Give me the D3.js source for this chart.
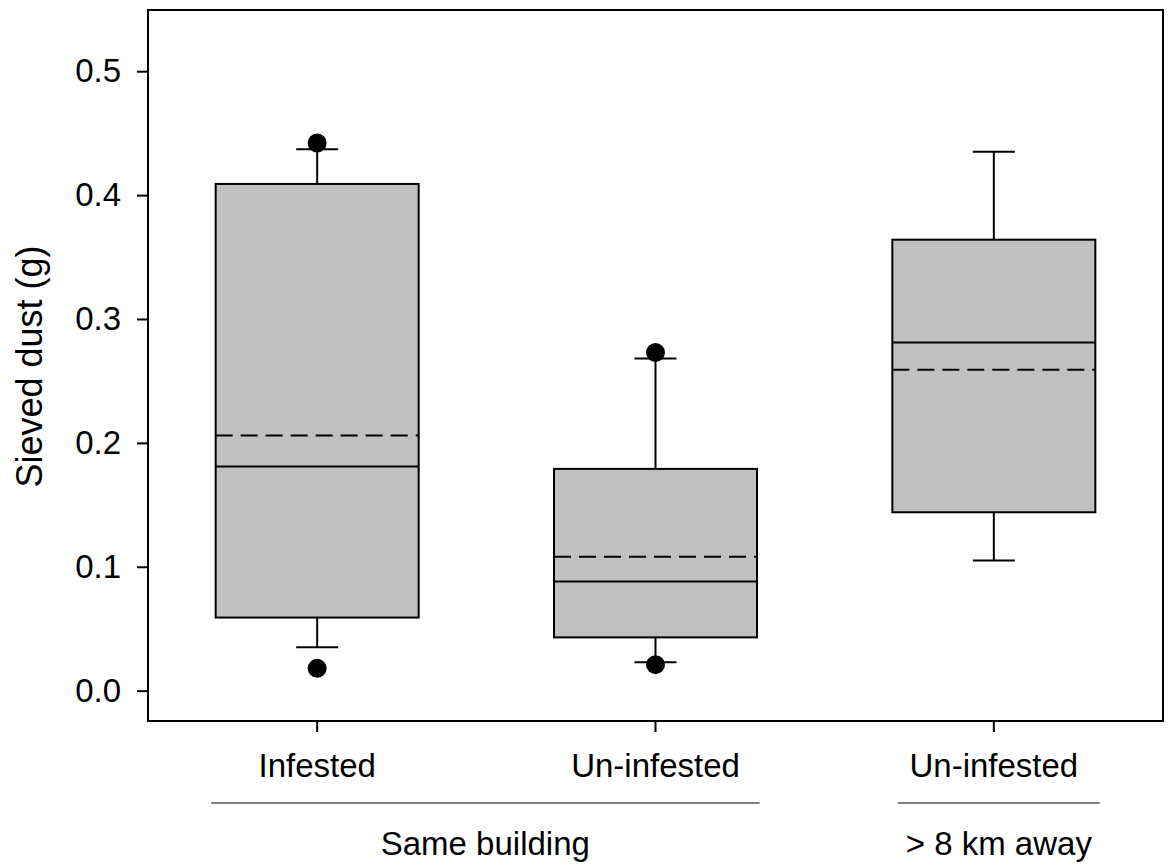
<!DOCTYPE html>
<meta charset="utf-8">
<script src="https://d3js.org/d3.v7.min.js"></script>
<style>
  body { margin: 0; background: #fff; }
  text { font-family: Arial, "Liberation Sans", sans-serif; fill: #000; }
</style>
<div id="chart"></div>
<script>

// categories and box statistics
var groups = ["Infested", "Un-infested", "Un-infested 2"];
var tickLabels = ["Infested", "Un-infested", "Un-infested"];
var q1 = [0.059, 0.043, 0.144];
var medians = [0.181, 0.088, 0.281];
var means = [0.206, 0.108, 0.259];
var q3 = [0.409, 0.179, 0.364];
var whiskLow = [0.035, 0.023, 0.105];
var whiskHigh = [0.437, 0.268, 0.435];
var outliers = [[0.442, 0.018], [0.273, 0.021], []];
var yTicks = [0.0, 0.1, 0.2, 0.3, 0.4, 0.5];

var margin = {top: 10, right: 5, bottom: 144, left: 148},
    width = 1168 - margin.left - margin.right,
    height = 865 - margin.top - margin.bottom;

var svg = d3.select("#chart")
  .append("svg")
    .attr("width", 1168)
    .attr("height", 865)
  .append("g")
    .attr("transform", "translate(" + margin.left + "," + margin.top + ")");

var x = d3.scaleBand()
  .domain(groups)
  .range([0, width])
  .padding(0);

var y = d3.scaleLinear()
  .domain([-0.0245, 0.5494])
  .range([height, 0]);

var boxW = x.bandwidth() * 0.6;
var cx = function(i) { return x(groups[i]) + x.bandwidth() / 2; };

var stats = groups.map(function(g, i) { return i; });

// whiskers
var wh = svg.selectAll(".whisk").data(stats).enter().append("g");
wh.append("line")
  .attr("x1", function(i) { return cx(i); }).attr("x2", function(i) { return cx(i); })
  .attr("y1", function(i) { return y(q3[i]); }).attr("y2", function(i) { return y(whiskHigh[i]); })
  .attr("stroke", "#000").attr("stroke-width", 2);
wh.append("line")
  .attr("x1", function(i) { return cx(i); }).attr("x2", function(i) { return cx(i); })
  .attr("y1", function(i) { return y(q1[i]); }).attr("y2", function(i) { return y(whiskLow[i]); })
  .attr("stroke", "#000").attr("stroke-width", 2);
wh.append("line")
  .attr("x1", function(i) { return cx(i) - 21; }).attr("x2", function(i) { return cx(i) + 21; })
  .attr("y1", function(i) { return y(whiskHigh[i]); }).attr("y2", function(i) { return y(whiskHigh[i]); })
  .attr("stroke", "#000").attr("stroke-width", 2);
wh.append("line")
  .attr("x1", function(i) { return cx(i) - 21; }).attr("x2", function(i) { return cx(i) + 21; })
  .attr("y1", function(i) { return y(whiskLow[i]); }).attr("y2", function(i) { return y(whiskLow[i]); })
  .attr("stroke", "#000").attr("stroke-width", 2);

// boxes
svg.selectAll(".box").data(stats).enter().append("rect")
  .attr("x", function(i) { return cx(i) - boxW / 2; })
  .attr("y", function(i) { return y(q3[i]); })
  .attr("width", boxW)
  .attr("height", function(i) { return y(q1[i]) - y(q3[i]); })
  .attr("fill", "#c0c0c0")
  .attr("stroke", "#000")
  .attr("stroke-width", 2);

// median
svg.selectAll(".med").data(stats).enter().append("line")
  .attr("x1", function(i) { return cx(i) - boxW / 2; })
  .attr("x2", function(i) { return cx(i) + boxW / 2; })
  .attr("y1", function(i) { return y(medians[i]); })
  .attr("y2", function(i) { return y(medians[i]); })
  .attr("stroke", "#000").attr("stroke-width", 2);

// mean (dashed)
svg.selectAll(".mean").data(stats).enter().append("line")
  .attr("x1", function(i) { return cx(i) - boxW / 2; })
  .attr("x2", function(i) { return cx(i) + boxW / 2; })
  .attr("y1", function(i) { return y(means[i]); })
  .attr("y2", function(i) { return y(means[i]); })
  .attr("stroke", "#000").attr("stroke-width", 2)
  .attr("stroke-dasharray", "17,8");

// outliers
var pts = [];
outliers.forEach(function(o, i) { o.forEach(function(v) { pts.push({i: i, v: v}); }); });
svg.selectAll(".out").data(pts).enter().append("circle")
  .attr("cx", function(d) { return cx(d.i); })
  .attr("cy", function(d) { return y(d.v); })
  .attr("r", 9.5)
  .attr("fill", "#000");

// frame
svg.append("rect")
  .attr("width", width).attr("height", height)
  .attr("fill", "none").attr("stroke", "#000").attr("stroke-width", 2);

// y axis
var yAxis = svg.append("g")
  .call(d3.axisLeft(y).tickValues(yTicks).tickFormat(d3.format(".1f")).tickSize(11).tickPadding(16));
yAxis.select(".domain").remove();
yAxis.selectAll("line").attr("stroke-width", 2);
yAxis.selectAll("text").attr("font-size", 33).attr("font-family", "Arial, 'Liberation Sans', sans-serif");

// x axis
var xAxis = svg.append("g")
  .attr("transform", "translate(0," + height + ")")
  .call(d3.axisBottom(x).tickSize(11).tickPadding(22).tickFormat(function(g, i) { return tickLabels[i]; }));
xAxis.select(".domain").remove();
xAxis.selectAll("line").attr("stroke-width", 2);
xAxis.selectAll("text").attr("font-size", 33).attr("font-family", "Arial, 'Liberation Sans', sans-serif");

// group brackets
var brackets = [
  {label: "Same building", from: 0, to: 1, l: 106, r: 104},
  {label: "> 8 km away", from: 2, to: 2, l: 96, r: 106}
];
brackets.forEach(function(b) {
  var x1 = cx(b.from) - b.l;
  var x2 = cx(b.to) + b.r;
  svg.append("line")
    .attr("x1", x1).attr("x2", x2)
    .attr("y1", height + 82).attr("y2", height + 82)
    .attr("stroke", "#555").attr("stroke-width", 1.5);
  svg.append("text")
    .attr("x", (x1 + x2) / 2)
    .attr("y", height + 134)
    .attr("text-anchor", "middle")
    .attr("font-size", 33)
    .text(b.label);
});

// y label
svg.append("text")
  .attr("transform", "translate(" + (-106) + "," + (height / 2 + 1) + ") rotate(-90)")
  .attr("text-anchor", "middle")
  .attr("font-size", 36)
  .text("Sieved dust (g)");

</script>
